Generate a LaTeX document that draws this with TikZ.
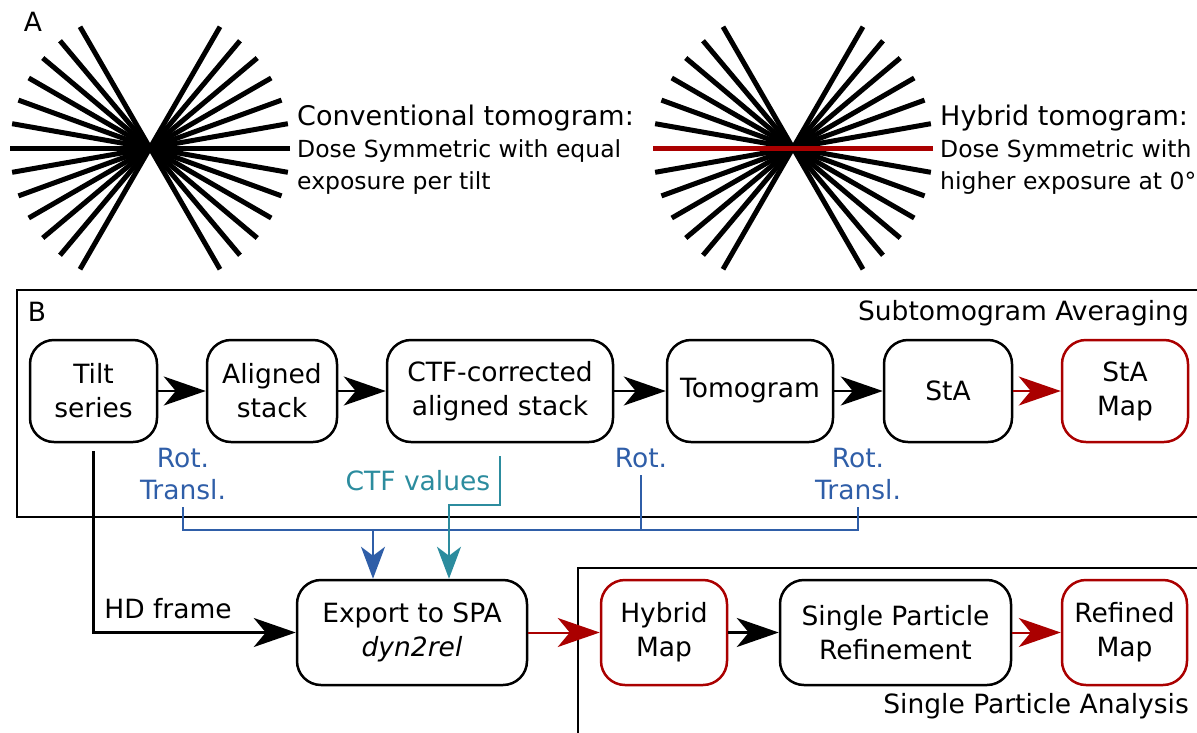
\documentclass[tikz,border=0pt]{standalone}
\usepackage{fontspec}
\setmainfont{DejaVu Sans}
\usepackage{tikz}
\usetikzlibrary{arrows.meta}
\definecolor{hdRed}{HTML}{AA0000}
\definecolor{hdBlue}{HTML}{2F5EA8}
\definecolor{hdTeal}{HTML}{2C8C9E}
\tikzset{
  hd diagram/.style={x=1pt, y=-1pt, font=\fontsize{26.5pt}{34pt}\selectfont},
  hd box/.style={draw, line width=2.5pt, rounded corners=24pt, align=center,
    inner sep=0pt, minimum height=102pt},
  hd map/.style={hd box, draw=hdRed},
  hd frame/.style={draw, line width=2.5pt},
  hd arrow/.style={-{Stealth[length=42pt,width=29pt,inset=12pt]}, line width=2.5pt},
  hd map arrow/.style={hd arrow, draw=hdRed, line width=2pt},
  hd blue/.style={draw=hdBlue, line width=2.2pt},
  hd blue arrow/.style={hd blue, -{Stealth[length=32pt,width=24pt,inset=9pt]}},
  hd teal arrow/.style={hd blue arrow, draw=hdTeal},
  hd label/.style={text=hdBlue, align=center, inner xsep=0pt, inner ysep=7pt,
    font=\fontsize{26.5pt}{32pt}\selectfont},
  hd fan/.style={line width=5pt},
  hd note/.style={align=left, anchor=west, inner sep=0pt},
  hd title/.style={font=\fontsize{27pt}{30pt}\selectfont},
  hd text/.style={font=\fontsize{23.5pt}{32pt}\selectfont}
}
\begin{document}
\begin{tikzpicture}[hd diagram]
\useasboundingbox (0,0) rectangle (1197,732);
% panel A: tilt schemes
\foreach \cx/\tag in {150/fanA,793/fanB}{
 \coordinate (\tag) at (\cx,148);
 \foreach \a in {-60,-50,...,60}
  \draw[hd fan] (\tag) ++(\a:140) -- ++(\a+180:280);
}
\draw[hd fan, hdRed] (fanB) ++(-140,0) -- ++(280,0);
\node[inner sep=0pt] (labA) at (33,22) {A};
\node[hd note, hd title] (convTitle) at (297,118) {Conventional tomogram:};
\node[hd note, hd text] (convText) at (297,167) {Dose Symmetric with equal\\exposure per tilt};
\node[hd note, hd title] (hybTitle) at (940,118) {Hybrid tomogram:};
\node[hd note, hd text] (hybText) at (940,167) {Dose Symmetric with\\higher exposure at 0°};
% panel B: frames
\draw[hd frame] (17,290) rectangle (1215,517);
\draw[hd frame] (578,568) rectangle (1215,750);
\node[inner sep=0pt] (labB) at (37,312) {B};
\node[anchor=east, inner sep=0pt] (staTitle) at (1189,313) {Subtomogram Averaging};
\node[anchor=east, inner sep=0pt] (spaTitle) at (1189,706) {Single Particle Analysis};
% subtomogram averaging row
\node[hd box, minimum width=127pt] (tilt) at (93.5,391) {Tilt\\series};
\node[hd box, minimum width=130pt] (aligned) at (272,391) {Aligned\\stack};
\node[hd box, minimum width=226pt] (ctf) at (500,391) {CTF-corrected\\aligned stack};
\node[hd box, minimum width=166pt] (tomo) at (750,391) {Tomogram};
\node[hd box, minimum width=128pt] (sta) at (948,391) {StA};
\node[hd map, minimum width=126pt] (staMap) at (1125,391) {StA\\Map};
\draw[hd arrow] (tilt) -- (aligned);
\draw[hd arrow] (aligned) -- (ctf);
\draw[hd arrow] (ctf) -- (tomo);
\draw[hd arrow] (tomo) -- (sta);
\draw[hd map arrow] (sta) -- (staMap);
% parameters passed on
\node[hd label, anchor=south] (rtA) at (183,507) {Rot.\\Transl.};
\node[hd label, anchor=south] (rot) at (641,475) {Rot.};
\node[hd label, anchor=south] (rtB) at (858,507) {Rot.\\Transl.};
\node[text=hdTeal, inner sep=0pt] (ctfVal) at (418,481) {CTF values};
% single particle row
\node[hd box, minimum width=230pt, minimum height=105pt] (export) at (412,632.5) {Export to SPA\\\textit{dyn2rel}};
\node[hd map, minimum width=126pt, minimum height=105pt] (hybrid) at (664,632.5) {Hybrid\\Map};
\node[hd box, minimum width=231pt, minimum height=105pt] (refine) at (895.5,632.5) {Single Particle\\Refinement};
\node[hd map, minimum width=125pt, minimum height=105pt] (refined) at (1124.5,632.5) {Refined\\Map};
\draw[hd map arrow] (export) -- (hybrid);
\draw[hd arrow] (hybrid) -- (refine);
\draw[hd map arrow] (refine) -- (refined);
% connectors into the export step
\coordinate (bus) at (373,530);
\coordinate (ctfBend) at (449,505);
\draw[hd blue] (rtA.south) |- (rtB.south |- bus) -- (rtB.south);
\draw[hd blue] (rot.south) -- (rot.south |- bus);
\draw[hd blue arrow] (bus) -- (bus |- export.north);
\draw[hd teal arrow] ([yshift=-13pt]ctf.south) |- (ctfBend) -- (ctfBend |- export.north);
\draw[hd arrow] ([yshift=-8pt]tilt.south) |- (export.west);
\node[inner sep=0pt] (hdFrame) at (168,609) {HD frame};
\end{tikzpicture}
\end{document}
